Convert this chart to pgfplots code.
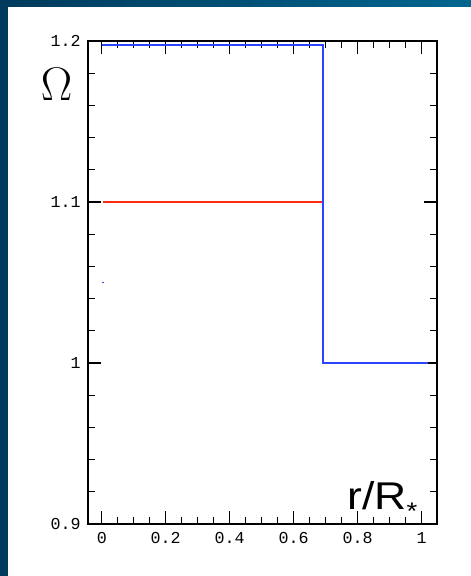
\documentclass[border=0pt]{standalone}
\usepackage{pgfplots}
\pgfplotsset{compat=1.18}
\usepackage{fontspec}
\setmainfont{Liberation Sans}
\newfontfamily\monofont{Liberation Mono}
\definecolor{bandL}{HTML}{003A5C}
\definecolor{bandR}{HTML}{00668F}
\definecolor{lineblue}{HTML}{2B45FF}
\definecolor{linered}{HTML}{FF2A10}
\begin{document}
\begin{tikzpicture}
\fill[white] (0,0) rectangle (353.25pt,432pt);
\fill[bandL] (0,0) rectangle (6pt,432pt);
\shade[left color=bandL,right color=bandR] (0,426.75pt) rectangle (353.25pt,432pt);
\begin{axis}[
  at={(66pt,39pt)}, anchor=south west, scale only axis,
  width=261.75pt, height=362.25pt,
  xmin=-0.043, xmax=1.048, ymin=0.9, ymax=1.2,
  xtick={0,0.2,0.4,0.6,0.8,1}, ytick={0.9,1,1.1,1.2},
  xticklabels={0,0.2,0.4,0.6,0.8,1}, yticklabels={0.9,1,1.1,1.2},
  minor x tick num=3, minor y tick num=4,
  tick align=inside, major tick length=9.5pt, minor tick length=5pt,
  axis line style={line width=1pt},
  every tick/.style={black, line width=1pt},
  tick label style={font=\monofont\fontsize{12.5}{13}\selectfont},
  /pgf/number format/assume math mode=true,
  xticklabel style={yshift=-3pt}, yticklabel style={xshift=-2pt},
  clip=false, axis on top=false,
]
\addplot[linered, line width=1.1pt] coordinates {(0.004,1.1) (0.6925,1.1)};
\addplot[lineblue, line width=1.5pt] coordinates {(0,1.1975) (0.6925,1.1975) (0.6925,1.0) (1.019,1.0)};
\addplot[lineblue, only marks, mark=*, mark size=0.4pt] coordinates {(0.004,1.05)};
\end{axis}
\node[inner sep=0pt] at (42.4pt,369pt) {\scalebox{1.42}{\fontsize{24.88}{28}\selectfont$\Omega$}};
\node[anchor=base west, inner sep=0pt, xscale=1.15] at (260.25pt,49.5pt) {{\fontsize{29}{30}\selectfont r/R}\raisebox{-7.5pt}{\fontsize{18}{18}\selectfont *}};
\end{tikzpicture}
\end{document}
